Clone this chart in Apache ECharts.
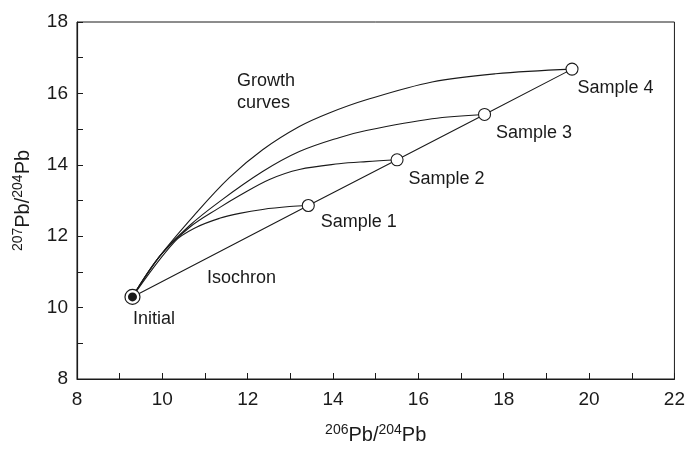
<!DOCTYPE html>
<html>
<head>
<meta charset="utf-8">
<script src="https://cdn.jsdelivr.net/npm/echarts@6/dist/echarts.min.js"></script>
<style>
  html, body { margin: 0; padding: 0; background: #fff; }
  #chart { width: 688px; height: 450px; }
</style>
</head>
<body>
<div id="chart"></div>
<script>
// Pb-Pb isochron diagram: growth curves from a common initial ratio
var initialPoint = [9.3, 10.3];

var sampleNames = ['Sample 1', 'Sample 2', 'Sample 3', 'Sample 4'];
var sampleX = [13.42, 15.5, 17.55, 19.6];
var sampleY = [12.86, 14.14, 15.41, 16.68];

// Growth curves (206Pb/204Pb, 207Pb/204Pb)
var growthCurve1 = [[9.3, 10.3], [10.29, 11.85], [10.8, 12.25], [11.34, 12.5], [11.81, 12.64],
    [12.35, 12.75], [12.98, 12.83], [13.42, 12.86]];
var growthCurve2 = [[9.3, 10.3], [9.94, 11.44], [10.64, 12.25], [11.34, 12.8], [11.81, 13.14],
    [12.51, 13.59], [13.21, 13.87], [14.14, 14.03], [14.78, 14.09], [15.5, 14.14]];
var growthCurve3 = [[9.3, 10.3], [9.94, 11.44], [10.64, 12.3], [11.34, 12.97], [12.35, 13.81],
    [13.21, 14.37], [14.14, 14.76], [14.78, 14.96], [16.32, 15.29], [17.55, 15.41]];
var growthCurve4 = [[9.3, 10.3], [9.94, 11.44], [10.8, 12.66], [11.57, 13.64], [12.35, 14.42],
    [13.21, 15.07], [13.91, 15.45], [14.78, 15.82], [16.32, 16.32], [17.81, 16.55], [19.6, 16.68]];

var xTicks = { min: 8, max: 22, step: 2 };
var yTicks = { min: 8, max: 18, step: 2 };

(function() {
    'use strict';

    var ink = '#1a1a1a';
    var font = '"Liberation Sans", Arial, Helvetica, sans-serif';

    // label offsets for the sample names (px, from symbol box corner)
    var labelOffsets = [[19, 23], [18, 26], [18, 25], [12, 25]];

    var chart = echarts.init(document.getElementById('chart'));

    var samples = sampleX.map(function(x, i) {
        return {
            name: sampleNames[i],
            value: [x, sampleY[i]],
            label: { position: labelOffsets[i] }
        };
    });

    var isochron = [initialPoint].concat(sampleX.map(function(x, i) {
        return [x, sampleY[i]];
    }));

    function curveSeries(data) {
        return {
            type: 'line',
            data: data,
            smooth: 0.35,
            symbol: 'none',
            silent: true,
            lineStyle: { color: ink, width: 1.1 },
            z: 2
        };
    }

    function axisCommon(t) {
        return {
            type: 'value',
            min: t.min,
            max: t.max,
            interval: t.step,
            axisLine: { show: true, onZero: false, lineStyle: { color: ink, width: 1.2 } },
            axisTick: { show: true, inside: true, length: 6, lineStyle: { color: ink, width: 1 } },
            minorTick: { show: true, splitNumber: 2, length: 6, lineStyle: { color: ink, width: 1 } },
            splitLine: { show: false },
            axisLabel: { fontSize: 19, color: ink, fontFamily: font }
        };
    }

    var supStyle = { fontSize: 14, fontFamily: font, color: ink, verticalAlign: 'top', lineHeight: 14 };
    var pbStyle = { fontSize: 20, fontFamily: font, color: ink, lineHeight: 24 };

    var xAxis = axisCommon(xTicks);
    xAxis.axisLabel.margin = 11;
    xAxis.name = '{sup|206}{pb|Pb/}{sup|204}{pb|Pb}';
    xAxis.nameLocation = 'middle';
    xAxis.nameGap = 44;
    xAxis.nameTextStyle = { rich: { sup: supStyle, pb: pbStyle } };

    var yAxis = axisCommon(yTicks);
    yAxis.axisLabel.margin = 9;
    yAxis.name = '{sup|207}{pb|Pb/}{sup|204}{pb|Pb}';
    yAxis.nameLocation = 'middle';
    yAxis.nameGap = 42;
    yAxis.nameRotate = 90;
    yAxis.nameTextStyle = { rich: { sup: supStyle, pb: pbStyle } };

    var labelText = { fontSize: 18, fontFamily: font, fill: ink };

    var option = {
        animation: false,
        backgroundColor: '#fff',
        grid: {
            left: 77, right: 12, top: 22, bottom: 70,
            show: true, borderColor: ink, borderWidth: 1
        },
        xAxis: xAxis,
        yAxis: yAxis,
        graphic: [
            { type: 'text', left: 237, top: 70,
              style: Object.assign({ text: 'Growth\ncurves', lineHeight: 22 }, labelText) },
            { type: 'text', left: 207, top: 269,
              style: Object.assign({ text: 'Isochron' }, labelText) },
            { type: 'text', left: 133, top: 310,
              style: Object.assign({ text: 'Initial' }, labelText) }
        ],
        series: [
            curveSeries(growthCurve1),
            curveSeries(growthCurve2),
            curveSeries(growthCurve3),
            curveSeries(growthCurve4),
            {
                // isochron through the samples
                type: 'line',
                data: isochron,
                symbol: 'none',
                silent: true,
                lineStyle: { color: ink, width: 1.1 },
                z: 2
            },
            {
                type: 'scatter',
                data: samples,
                symbol: 'circle',
                symbolSize: 12,
                itemStyle: { color: '#fff', borderColor: ink, borderWidth: 1.1, opacity: 1 },
                label: {
                    show: true,
                    formatter: '{b}',
                    fontSize: 18,
                    fontFamily: font,
                    color: ink,
                    align: 'left',
                    verticalAlign: 'middle'
                },
                z: 4
            },
            {
                // initial ratio: ringed dot
                type: 'scatter',
                data: [initialPoint],
                symbol: 'circle',
                symbolSize: 15,
                itemStyle: { color: '#fff', borderColor: ink, borderWidth: 1.2, opacity: 1 },
                z: 5
            },
            {
                type: 'scatter',
                data: [initialPoint],
                symbol: 'circle',
                symbolSize: 9,
                itemStyle: { color: ink, opacity: 1 },
                z: 6
            }
        ]
    };

    chart.setOption(option);
})();
</script>
</body>
</html>
